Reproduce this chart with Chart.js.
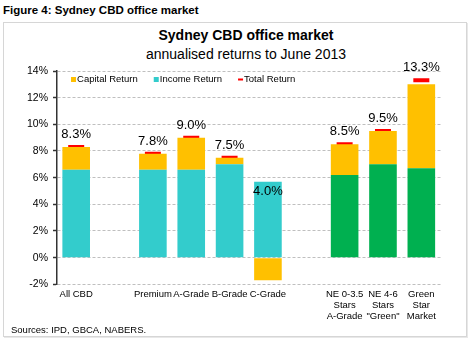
<!DOCTYPE html>
<html>
<head>
<meta charset="utf-8">
<script src="https://cdn.jsdelivr.net/npm/chart.js"></script>
<style>
    html, body { margin: 0; padding: 0; background: #fff; }
    #page { position: relative; width: 470px; height: 346px; overflow: hidden; font-family: 'Liberation Sans', Arial, sans-serif; color: #000; }
    #heading { position: absolute; left: 3px; top: 4px; font-size: 11.5px; font-weight: bold; }
    #frame { position: absolute; left: 3px; top: 22px; width: 462px; height: 313px; border: 1px solid #d6d6d6; box-shadow: 1px 1px 0 #e8e8e8; }
    #title, #subtitle { position: absolute; left: 0; width: 492px; text-align: center; line-height: 16px; white-space: nowrap; }
    #title { top: 27px; font-size: 14px; font-weight: bold; }
    #subtitle { top: 46px; font-size: 14px; }
    #sources { position: absolute; left: 11px; top: 324px; font-size: 9.5px; }
    #wrap { position: absolute; left: 0; top: 0; width: 470px; height: 346px; }
</style>
</head>
<body>
<div id="page">
    <div id="heading">Figure 4: Sydney CBD office market</div>
    <div id="frame"></div>
    <div id="title">Sydney CBD office market</div>
    <div id="subtitle">annualised returns to June 2013</div>
    <div id="wrap"><canvas id="chart"></canvas></div>
    <div id="sources">Sources: IPD, GBCA, NABERS.</div>
</div>
<script>
// empty slots keep the three groups apart
const categories = [
    'All CBD', '', 'Premium', 'A-Grade', 'B-Grade', 'C-Grade', '',
    ['NE 0-3.5', 'Stars', 'A-Grade'],
    ['NE 4-6', 'Stars', '"Green"'],
    ['Green', 'Star', 'Market']
];
const incomeReturn = [6.6, null, 6.6, 6.6, 7.0, 5.7, null, null, null, null];
const greenIncomeReturn = [null, null, null, null, null, null, null, 6.2, 7.0, 6.7];
const capitalReturn = [1.7, null, 1.2, 2.4, 0.5, -1.7, null, 2.3, 2.5, 6.3];
const totalReturn = [8.3, null, 7.8, 9.0, 7.5, 4.0, null, 8.5, 9.5, 13.3];
const yTicks = [-2, 0, 2, 4, 6, 8, 10, 12, 14];

const CAPITAL = '#FFC000';
const INCOME = '#33CCCC';
const GREEN = '#00B050';
const TOTAL = '#FF0000';

Chart.defaults.font.family = "'Liberation Sans', Arial, sans-serif";
Chart.defaults.color = '#000';

// legend sits inside the plot, just under the top gridline
const inlineLegend = {
    id: 'inlineLegend',
    afterDraw(chart) {
        const ctx = chart.ctx;
        const area = chart.chartArea;
        const items = [
            { label: 'Capital Return', color: CAPITAL, h: 5 },
            { label: 'Income Return', color: INCOME, h: 5 },
            { label: 'Total Return', color: TOTAL, h: 2 }
        ];
        let x = area.left + 14;
        const y = area.top + 8.5;
        ctx.save();
        ctx.font = "9.5px 'Liberation Sans', Arial, sans-serif";
        ctx.textBaseline = 'middle';
        ctx.textAlign = 'left';
        items.forEach(item => {
            ctx.fillStyle = item.color;
            ctx.fillRect(x, y - item.h / 2, 5, item.h);
            ctx.fillStyle = '#000';
            ctx.fillText(item.label, x + 6, y);
            x += 6 + ctx.measureText(item.label).width + 16;
        });
        ctx.restore();
    }
};

// percentage labels above the total return markers
const totalLabels = {
    id: 'totalLabels',
    afterDatasetsDraw(chart) {
        const meta = chart.getDatasetMeta(3);
        const ctx = chart.ctx;
        ctx.save();
        ctx.font = "13px 'Liberation Sans', Arial, sans-serif";
        ctx.fillStyle = '#000';
        ctx.textAlign = 'center';
        ctx.textBaseline = 'middle';
        meta.data.forEach((pt, i) => {
            const v = totalReturn[i];
            if (v == null) return;
            ctx.fillText(v.toFixed(1) + '%', pt.x, pt.y - 12.5);
        });
        ctx.restore();
    }
};

new Chart(document.getElementById('chart'), {
    type: 'bar',
    data: {
        labels: categories,
        datasets: [
            {
                label: 'Income Return',
                data: incomeReturn,
                backgroundColor: INCOME,
                stack: 'returns'
            },
            {
                label: 'Income Return (Green)',
                data: greenIncomeReturn,
                backgroundColor: GREEN,
                stack: 'returns'
            },
            {
                label: 'Capital Return',
                data: capitalReturn,
                backgroundColor: CAPITAL,
                stack: 'returns'
            },
            {
                type: 'line',
                label: 'Total Return',
                data: totalReturn,
                stack: 'total',
                showLine: false,
                pointStyle: 'line',
                pointRadius: 8,
                pointHoverRadius: 8,
                pointBorderWidth: 4,
                pointBorderColor: TOTAL,
                pointBackgroundColor: TOTAL,
                borderColor: TOTAL
            }
        ]
    },
    options: {
        responsive: true,
        maintainAspectRatio: false,
        animation: false,
        events: [],
        categoryPercentage: 0.8,
        barPercentage: 0.9,
        layout: {
            padding: { left: 22, right: 29.5, top: 71, bottom: 19.5 }
        },
        plugins: {
            legend: { display: false },
            tooltip: { enabled: false }
        },
        scales: {
            x: {
                grid: { display: false, drawTicks: false },
                border: { display: false },
                ticks: {
                    font: { size: 9.5, lineHeight: 1.2 },
                    color: '#000',
                    padding: 4,
                    autoSkip: false,
                    maxRotation: 0
                }
            },
            y: {
                stacked: true,
                min: -2,
                max: 14,
                afterBuildTicks(scale) {
                    scale.ticks = yTicks.map(v => ({ value: v }));
                },
                grid: {
                    color: '#BFBFBF',
                    lineWidth: 1,
                    drawTicks: true,
                    tickLength: 4,
                    tickColor: '#333',
                    tickWidth: 1.5
                },
                border: {
                    display: true,
                    color: '#333',
                    width: 1.5,
                    dash: [3, 2]
                },
                ticks: {
                    font: { size: 10.5 },
                    color: '#000',
                    padding: 5,
                    callback: v => v + '%'
                }
            }
        }
    },
    plugins: [inlineLegend, totalLabels]
});
</script>
</body>
</html>
